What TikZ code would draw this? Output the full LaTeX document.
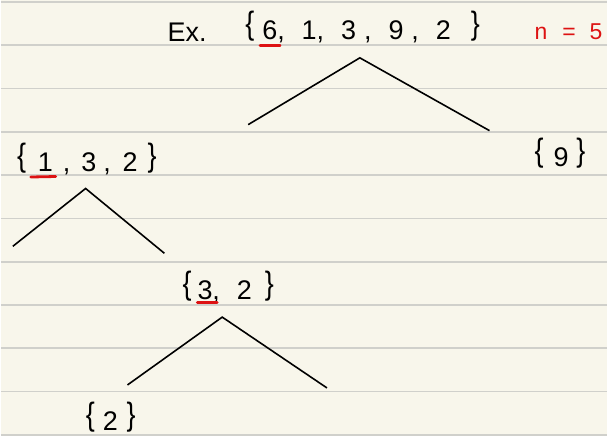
\documentclass[tikz,border=0pt]{standalone}
\usepackage{fontspec}
\setmainfont{Liberation Sans}
\definecolor{paper}{RGB}{248,246,235}
\definecolor{ruling}{RGB}{208,208,203}
\definecolor{pen}{RGB}{221,18,18}
\newcommand{\lb}{\raisebox{5pt}{\scalebox{1}[1.2]{\{}}}
\newcommand{\rb}{\raisebox{5pt}{\scalebox{1}[1.2]{\}}}}
\begin{document}
\begin{tikzpicture}[x=1pt,y=-1pt]
	\tikzstyle{every node}+=[inner sep=0pt, anchor=base west, font=\fontsize{27}{30}\selectfont]
	\tikzstyle{branch}=[black, line width=1.6pt]
	\tikzstyle{pick}=[pen, line width=2.8pt, line cap=round]
	% paper
	\fill [paper] (0,0) rectangle (608,437);
	\foreach \i in {0,...,10}
		\draw [ruling, line width=1.7pt] (0,{2+43.4*\i}) -- (608,{2+43.4*\i});
	% sets
	\node (ex) at (167,42) {Ex.};
	\node (root) at (245,40) {\lb\hspace{8pt}6,\hspace{17pt}1,\hspace{17pt}3\hspace{8pt},\hspace{17pt}9\hspace{8pt},\hspace{17pt}2\hspace{20pt}\rb};
	\node [pen, font=\fontsize{23}{26}\selectfont] (size) at (535,40) {n\hspace{15pt}=\hspace{14pt}5};
	\node (left) at (16,172) {\lb\hspace{12pt}1\hspace{10pt},\hspace{11pt}3\hspace{7pt},\hspace{12pt}2\hspace{10pt}\rb};
	\node (right) at (535,167) {\lb\hspace{10pt}9\hspace{8pt}\rb};
	\node (mid) at (182,300) {\lb\hspace{6pt}3,\hspace{17pt}2\hspace{13pt}\rb};
	\node (last) at (85,432) {\lb\hspace{8pt}2\hspace{9pt}\rb};
	% pivots
	\draw [pick] (260,45.5) -- (280,45.5);
	\draw [pick] (30,177.5) -- (55,177);
	\draw [pick] (197,303.5) -- (217,303.5);
	% branches
	\coordinate (rootTop) at (360,58);
	\coordinate (rootL) at (248,125);
	\coordinate (rootR) at (490,131);
	\coordinate (leftTop) at (85,189);
	\coordinate (leftL) at (12,247);
	\coordinate (leftR) at (164,254);
	\coordinate (midTop) at (222,318);
	\coordinate (midL) at (127,386);
	\coordinate (midR) at (327,389);
	\draw [branch] (rootL) -- (rootTop) -- (rootR);
	\draw [branch] (leftL) -- (leftTop) -- (leftR);
	\draw [branch] (midL) -- (midTop) -- (midR);
\end{tikzpicture}
\end{document}
